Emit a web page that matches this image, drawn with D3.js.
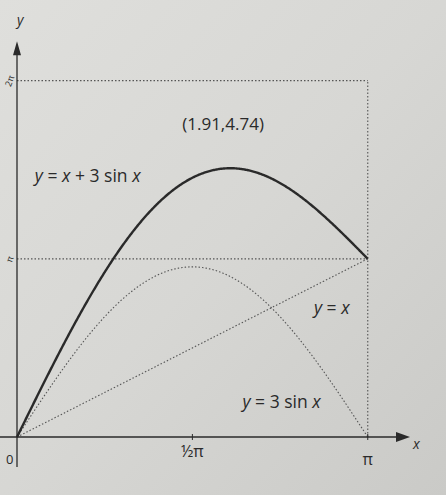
<!DOCTYPE html>
<html><head><meta charset="utf-8">
<script src="https://cdn.jsdelivr.net/npm/d3@7"></script>
<style>body{margin:0;background:#d8d8d5;}svg{display:block;}</style>
</head><body>
<svg id="c" width="446" height="495"></svg>
<script>
const xTicks = [{v: Math.PI/2, label: "½π"}, {v: Math.PI, label: "π"}];
const yRefs = [{v: Math.PI, label: "π"}, {v: 2*Math.PI, label: "2π"}];
const peak = {x: 1.91, y: 4.74, label: "(1.91,4.74)"};
const curveLabels = [
  {text: "y = x + 3 sin x", x: 0.16, y: 4.5},
  {text: "y = x", x: 2.66, y: 2.16},
  {text: "y = 3 sin x", x: 2.02, y: 0.52}
];
const xs = d3.range(0, 400).map(i => i * Math.PI / 399);
const fSum = x => x + 3*Math.sin(x);
const fSin = x => 3*Math.sin(x);
const fId = x => x;

const svg = d3.select("#c");
const defs = svg.append("defs");
const g = defs.append("linearGradient").attr("id","bg").attr("x1","0").attr("y1","0").attr("x2","1").attr("y2","1");
g.append("stop").attr("offset","0").attr("stop-color","#dfdfdc");
g.append("stop").attr("offset","0.5").attr("stop-color","#d7d7d4");
g.append("stop").attr("offset","1").attr("stop-color","#cacac7");
svg.append("rect").attr("width",446).attr("height",495).attr("fill","url(#bg)");

const x = d3.scaleLinear().domain([0, 3.52]).range([17, 410]);
const y = d3.scaleLinear().domain([0, 7]).range([437, 40]);
const ink = "#2a2a2a";
const font = "'Open Sans', 'Noto Sans', sans-serif";

const dot = sel => sel.attr("stroke", "#555").attr("stroke-width", 1.1).attr("stroke-dasharray", "1.5,2").attr("fill","none");
yRefs.forEach(r => {
  svg.append("line").attr("x1", x(0)).attr("x2", x(Math.PI)).attr("y1", y(r.v)).attr("y2", y(r.v)).call(dot);
});
svg.append("line").attr("x1", x(Math.PI)).attr("x2", x(Math.PI)).attr("y1", y(0)).attr("y2", y(2*Math.PI)).call(dot);

const line = f => d3.line().x(d => x(d)).y(d => y(f(d)));
svg.append("path").datum(xs).attr("d", line(fId)).call(dot);
svg.append("path").datum(xs).attr("d", line(fSin)).call(dot);
svg.append("path").datum(xs).attr("d", line(fSum)).attr("fill","none").attr("stroke", ink).attr("stroke-width", 2.4);

svg.append("line").attr("x1", x(0)-30).attr("x2", x(3.45)).attr("y1", y(0)).attr("y2", y(0)).attr("stroke", ink).attr("stroke-width", 1.3);
svg.append("line").attr("x1", x(0)).attr("x2", x(0)).attr("y1", y(0)+30).attr("y2", y(6.8)).attr("stroke", ink).attr("stroke-width", 1.3);
svg.append("path").attr("d", `M${x(3.52)},${y(0)} l-14,-5 l0,10 z`).attr("fill", ink);
svg.append("path").attr("d", `M${x(0)},${y(6.98)} l-4,14 l8,0 z`).attr("fill", ink);

xTicks.forEach(t => {
  svg.append("line").attr("x1", x(t.v)).attr("x2", x(t.v)).attr("y1", y(0)-3).attr("y2", y(0)+3).attr("stroke", ink);
  svg.append("text").attr("x", x(t.v)).attr("y", y(0) + (t.v === Math.PI ? 28 : 20)).attr("text-anchor","middle")
    .attr("font-family", font).attr("font-size", 16).attr("fill", ink).text(t.label);
});
svg.append("text").attr("x", 6).attr("y", y(0)+27).attr("font-family", font).attr("font-size", 13).attr("fill", ink).text("0");
svg.append("text").attr("x", 413).attr("y", y(0)+12).attr("font-family", font).attr("font-style","italic").attr("font-size", 14).attr("fill", ink).text("x");
svg.append("text").attr("x", 17).attr("y", 25).attr("font-family", font).attr("font-style","italic").attr("font-size", 14).attr("fill", ink).text("y");
yRefs.forEach(r => {
  svg.append("text").attr("x", 9).attr("y", y(r.v)+4).attr("text-anchor","middle").attr("transform", `rotate(-70,9,${y(r.v)})`)
    .attr("font-family", font).attr("font-size", 9).attr("fill", ink).text(r.label);
});

svg.append("text").attr("x", x(peak.x) - 48).attr("y", y(peak.y) - 38).attr("font-family", font).attr("font-size", 17).attr("fill", ink).text(peak.label);
curveLabels.forEach(l => {
  const t = svg.append("text").attr("x", x(l.x)).attr("y", y(l.y)).attr("font-family", font).attr("font-size", 17.5).attr("fill", ink);
  const parts = l.text.split(/(x|y)/);
  parts.forEach(p => {
    if (!p) return;
    t.append("tspan").attr("font-style", (p === "x" || p === "y") ? "italic" : "normal").text(p);
  });
});
</script>
</body></html>
